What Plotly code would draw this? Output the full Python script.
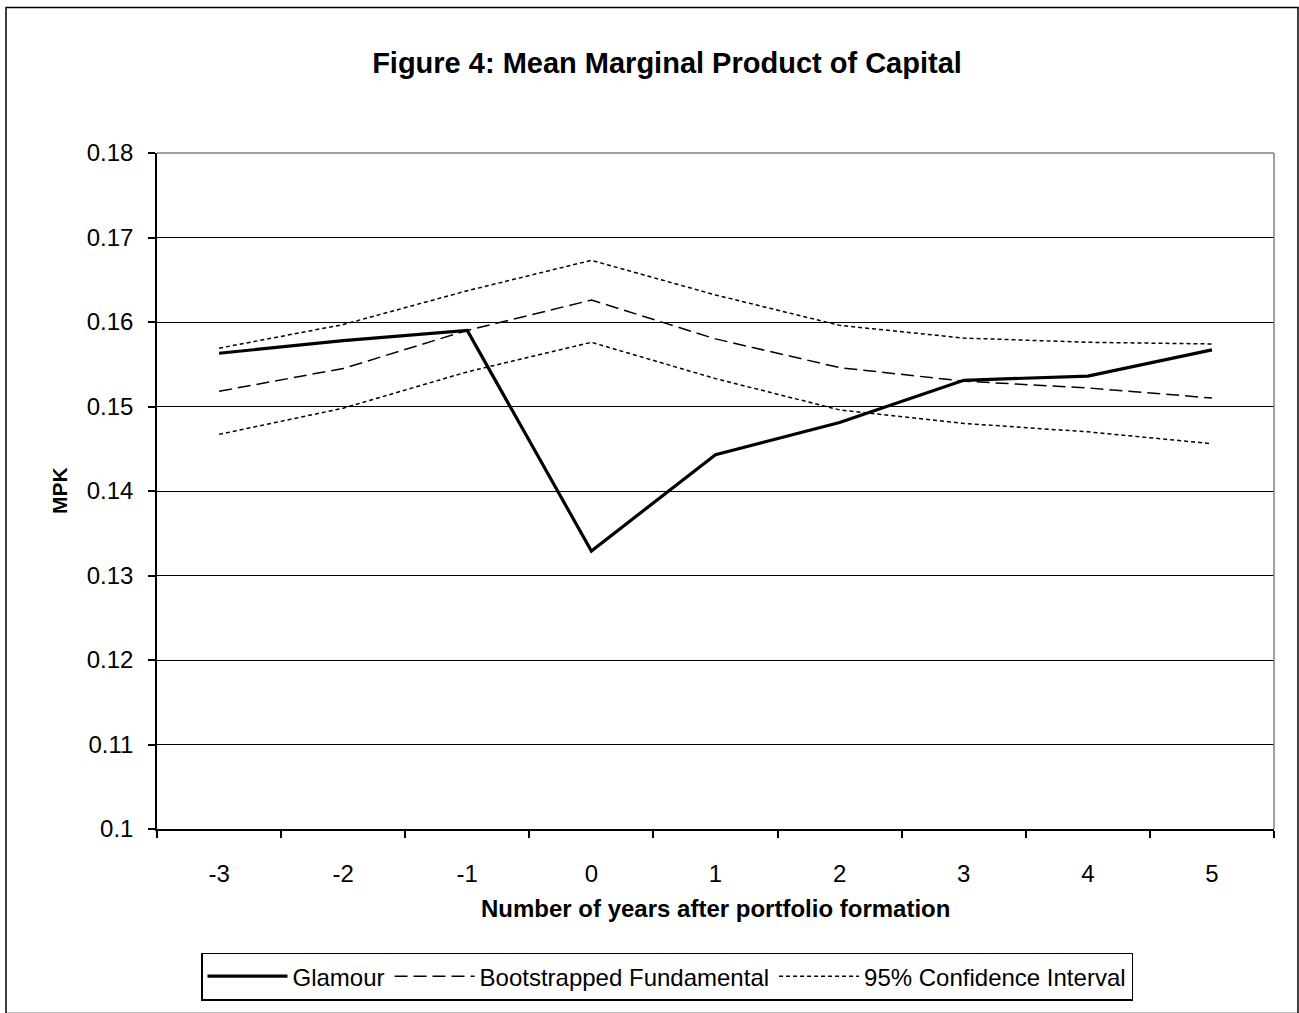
import plotly.graph_objects as go

years = [-3, -2, -1, 0, 1, 2, 3, 4, 5]
glamour = [0.1563, 0.1578, 0.1590, 0.1329, 0.1443, 0.1481, 0.1531, 0.1536, 0.1567]
bootstrapped = [0.1518, 0.1545, 0.1590, 0.1626, 0.1580, 0.1546, 0.1530, 0.1522, 0.1510]
ci_upper = [0.1569, 0.1597, 0.1637, 0.1673, 0.1632, 0.1596, 0.1581, 0.1576, 0.1574]
ci_lower = [0.1467, 0.1498, 0.1541, 0.1576, 0.1533, 0.1496, 0.1480, 0.1470, 0.1456]
y_ticks = [0.10, 0.11, 0.12, 0.13, 0.14, 0.15, 0.16, 0.17, 0.18]
y_ticktext = ["0.1", "0.11", "0.12", "0.13", "0.14", "0.15", "0.16", "0.17", "0.18"]

FONT = "Liberation Sans, Arial, sans-serif"
CI_DASH = "4px,3px"
BS_DASH = "13px,6px"

fig = go.Figure()
fig.add_trace(go.Scatter(x=years, y=ci_upper, mode="lines", name="95% Confidence Interval",
                         line=dict(color="black", width=1.5, dash=CI_DASH), showlegend=False))
fig.add_trace(go.Scatter(x=years, y=ci_lower, mode="lines", name="95% Confidence Interval",
                         line=dict(color="black", width=1.5, dash=CI_DASH), showlegend=False))
fig.add_trace(go.Scatter(x=years, y=bootstrapped, mode="lines", name="Bootstrapped Fundamental",
                         legendrank=2, line=dict(color="black", width=1.5, dash=BS_DASH)))
fig.add_trace(go.Scatter(x=years, y=glamour, mode="lines", name="Glamour",
                         legendrank=1, line=dict(color="black", width=3.2)))
fig.add_trace(go.Scatter(x=[None], y=[None], mode="lines", name="95% Confidence Interval",
                         legendrank=3, line=dict(color="black", width=1.5, dash=CI_DASH)))

PL, PR, PT, PB = 157, 1274, 153, 831
W, H = 1299, 1013

def px_x(x):
    return (x - PL) / (PR - PL)

def px_y(y):
    return (PB - y) / (PB - PT)

fig.update_layout(
    width=W, height=H,
    margin=dict(l=PL, r=W - PR, t=PT, b=H - PB),
    paper_bgcolor="white", plot_bgcolor="white",
    font=dict(family=FONT, color="black", size=24),
    title=dict(text="<b>Figure 4: Mean Marginal Product of Capital</b>",
               x=667 / W, xanchor="center", xref="container",
               y=1 - 63 / H, yanchor="middle", yref="container",
               font=dict(family=FONT, size=29, color="black")),
    showlegend=True,
    legend=dict(orientation="h", x=px_x(667), xanchor="center",
                y=px_y(979), yanchor="middle",
                bordercolor="black", borderwidth=1.5, bgcolor="white",
                font=dict(family=FONT, size=24, color="black"),
                itemwidth=80, traceorder="normal",
                tracegroupgap=0),
    xaxis=dict(range=[-3.5, 5.5], tickvals=years, ticktext=[str(v) for v in years],
               ticks="", showgrid=False, zeroline=False,
               showline=True, linecolor="black", linewidth=1.5,
               ticklabelstandoff=22,
               tickfont=dict(family=FONT, size=24, color="black"),
               minor=dict(tickmode="linear", tick0=-3.5, dtick=1, ticks="outside",
                          ticklen=7, tickwidth=1.5, tickcolor="black", showgrid=False)),
    yaxis=dict(range=[0.1, 0.18], tickvals=y_ticks, ticktext=y_ticktext,
               ticks="outside", ticklen=7, tickwidth=1.5, tickcolor="black",
               showgrid=True, gridcolor="black", gridwidth=1.2, zeroline=False,
               showline=True, linecolor="black", linewidth=1.5,
               ticklabelstandoff=10,
               tickfont=dict(family=FONT, size=24, color="black")),
)

fig.add_annotation(text="<b>MPK</b>", textangle=-90, xref="paper", yref="paper",
                   x=px_x(59), y=px_y(492), xanchor="center", yanchor="middle",
                   showarrow=False, font=dict(family=FONT, size=21, color="black"))
fig.add_annotation(text="<b>Number of years after portfolio formation</b>", xref="paper", yref="paper",
                   x=px_x(715), y=px_y(911), xanchor="center", yanchor="middle",
                   showarrow=False, font=dict(family=FONT, size=24, color="black"))

fig.add_shape(type="line", xref="paper", yref="paper", x0=0, x1=1, y0=1, y1=1,
              line=dict(color="#808080", width=1.5), layer="above")
fig.add_shape(type="line", xref="paper", yref="paper", x0=1, x1=1, y0=0, y1=1,
              line=dict(color="#808080", width=1.5), layer="above")
fig.add_shape(type="rect", xref="paper", yref="paper",
              x0=px_x(6), x1=px_x(1298), y0=px_y(1016), y1=px_y(7),
              line=dict(color="black", width=1.5), fillcolor="rgba(0,0,0,0)", layer="below")

fig.write_html("out.html", config={"displayModeBar": False},
               post_script="document.body.style.margin='0';document.body.style.overflow='hidden';")
